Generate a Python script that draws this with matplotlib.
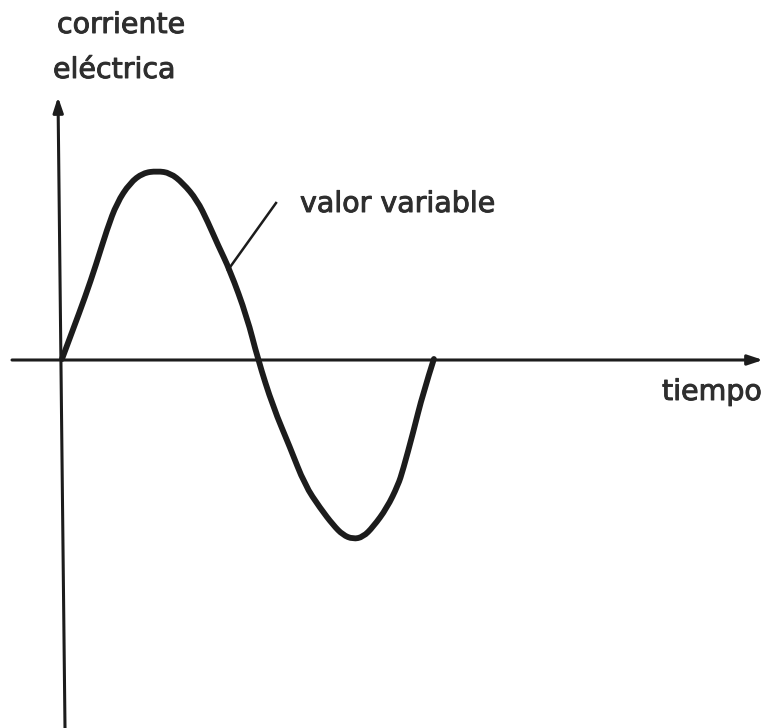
import matplotlib
matplotlib.use("Agg")
import matplotlib.pyplot as plt
import matplotlib.patheffects as pe
from matplotlib.path import Path
from matplotlib.patches import PathPatch

# Data: one period of the alternating current (time as fraction of the drawn period,
# current normalised to the peak value).
tiempo = [0.000, 0.029, 0.062, 0.091, 0.121, 0.147, 0.182, 0.217, 0.255, 0.290,
          0.324, 0.362, 0.391, 0.418, 0.450, 0.496, 0.525, 0.566, 0.611, 0.651,
          0.692, 0.727, 0.753, 0.780, 0.807, 0.834, 0.871, 0.901, 0.914, 0.941,
          0.968, 0.997]
corriente = [0.000, 0.155, 0.332, 0.503, 0.695, 0.834, 0.941, 0.995, 1.005, 0.995,
             0.941, 0.850, 0.733, 0.610, 0.476, 0.225, 0.000, -0.257, -0.471, -0.674,
             -0.797, -0.888, -0.941, -0.963, -0.952, -0.898, -0.797, -0.674, -0.594, -0.396,
             -0.182, 0.000]

axis_labels = {"y1": "corriente", "y2": "eléctrica", "x": "tiempo"}
note = "valor variable"

W, H = 767, 728
X0, Y0, SX, SY = 62.0, 359.0, 373.0, 187.0   # layout of the drawing


def P(px, py):
    """figure pixel -> data coordinates (layout helper for decorations)."""
    return ((px - X0) / SX, (Y0 - py) / SY)


fig = plt.figure(figsize=(W / 100, H / 100), dpi=100)
ax = fig.add_axes([0, 0, 1, 1])
ax.set_xlim(P(0, 0)[0], P(W, 0)[0])
ax.set_ylim(P(0, H)[1], P(0, 0)[1])
ax.axis("off")

ink = "#1c1c1c"
txt = "#2e2e2e"
fs = 20.5
thick = [pe.withStroke(linewidth=0.7, foreground=txt)]

# axes with arrows
ax.annotate("", xy=P(763, 360), xytext=P(12, 360),
            arrowprops=dict(arrowstyle="-|>,head_length=0.9,head_width=0.3",
                            color=ink, lw=2.2, shrinkA=0, shrinkB=0))
ax.annotate("", xy=P(58, 97), xytext=P(65, 728),
            arrowprops=dict(arrowstyle="-|>,head_length=0.9,head_width=0.3",
                            color=ink, lw=2.2, shrinkA=0, shrinkB=0))

# the current curve, drawn as a smooth quadratic-spline path through the data
pts = list(zip(tiempo, corriente))
verts = [pts[0]]
codes = [Path.MOVETO]
for k in range(1, len(pts) - 1):
    nxt = pts[k + 1] if k == len(pts) - 2 else (
        (pts[k][0] + pts[k + 1][0]) / 2, (pts[k][1] + pts[k + 1][1]) / 2)
    verts += [pts[k], nxt]
    codes += [Path.CURVE3, Path.CURVE3]
ax.add_patch(PathPatch(Path(verts, codes), facecolor="none", edgecolor=ink,
                       lw=4.2, capstyle="round", joinstyle="round"))

# leader line for the note
x1, y1 = P(228, 270)
x2, y2 = P(276, 203)
ax.plot([x1, x2], [y1, y2], color=ink, lw=1.8)

for (px, py), s in [((300, 212), note), ((57, 33), axis_labels["y1"]),
                    ((53, 78), axis_labels["y2"]), ((662, 400), axis_labels["x"])]:
    ax.text(*P(px, py), s, fontsize=fs, color=txt, ha="left", va="baseline",
            family="DejaVu Sans", path_effects=thick)

fig.savefig("out.png", dpi=100, facecolor="white")
